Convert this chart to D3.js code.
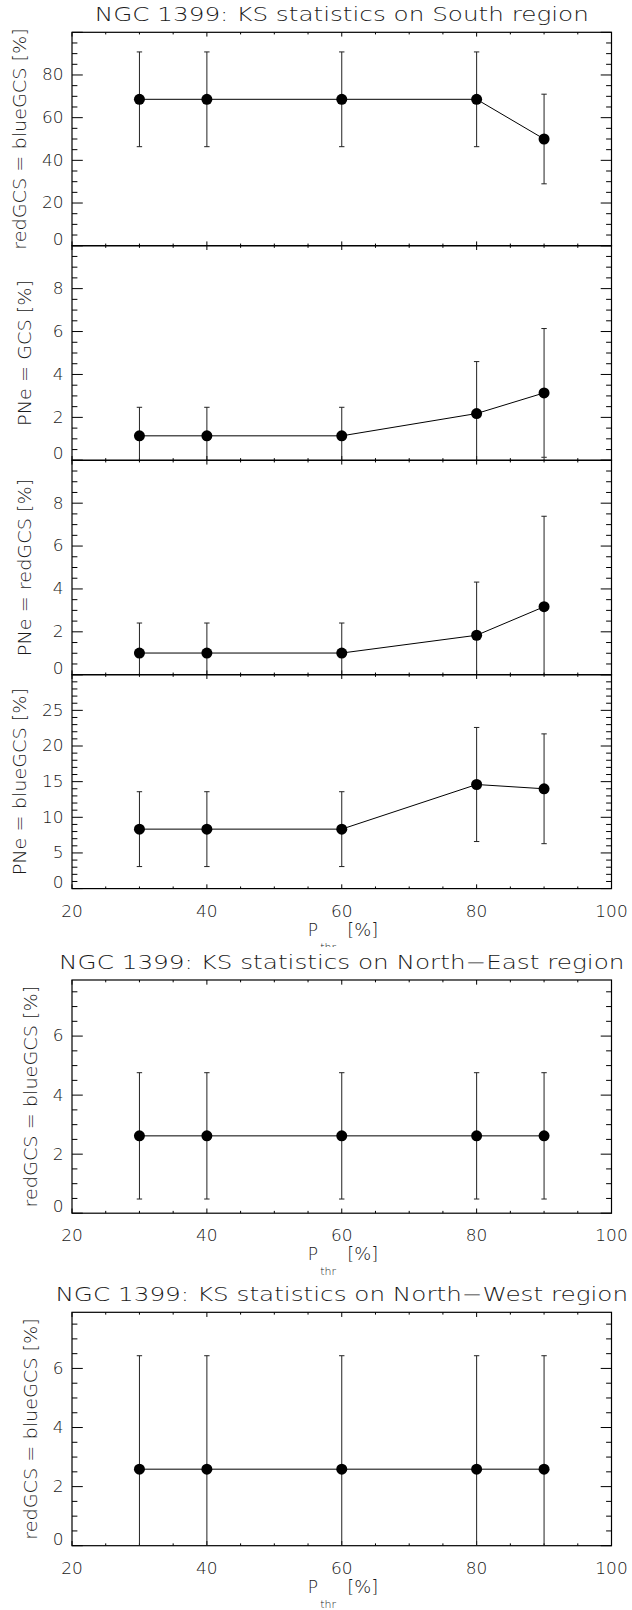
<!DOCTYPE html>
<html><head><meta charset="utf-8">
<script src="https://cdn.jsdelivr.net/npm/d3@7"></script>
<style>body{margin:0;background:#fff} svg{display:block} text{font-weight:200}</style>
</head><body>
<svg id="c" width="632" height="1610"></svg>
<script>
// ---------- data ----------
const pThr = [30, 40, 60, 80, 90];
const xTickValues = [20, 40, 60, 80, 100];

const southRedBlue    = [68.6, 68.6, 68.6, 68.6, 50.0];
const southRedBlueErr = [22.2, 22.2, 22.2, 22.2, 21.0];
const southPneGcs     = [1.14, 1.14, 1.14, 2.18, 3.14];
const southPneGcsErr  = [1.33, 1.33, 1.33, 2.42, 3.00];
const southPneRed     = [1.01, 1.01, 1.01, 1.84, 3.17];
const southPneRedErr  = [1.40, 1.40, 1.40, 2.48, 4.22];
const southPneBlue    = [8.34, 8.34, 8.34, 14.6, 14.0];
const southPneBlueErr = [5.25, 5.25, 5.25, 8.00, 7.70];
const neRedBlue       = [2.62, 2.62, 2.62, 2.62, 2.62];
const neRedBlueErr    = [2.14, 2.14, 2.14, 2.14, 2.14];
const nwRedBlue       = [2.59, 2.59, 2.59, 2.59, 2.59];
const nwRedBlueErr    = [3.84, 3.84, 3.84, 3.84, 3.84];

const figureTitles = [
  "NGC 1399: KS statistics on South region",
  "NGC 1399: KS statistics on North\u2212East region",
  "NGC 1399: KS statistics on North\u2212West region"
];
const yLabels = [
  "redGCS = blueGCS [%]", "PNe = GCS [%]", "PNe = redGCS [%]", "PNe = blueGCS [%]",
  "redGCS = blueGCS [%]", "redGCS = blueGCS [%]"
];
const yMaxes   = [100, 10, 10, 30, 7.9, 7.9];
const yMajors  = [20, 2, 2, 5, 2, 2];
const yMinors  = [5, 0.5, 0.5, 1, 0.5, 0.5];
const values   = [southRedBlue, southPneGcs, southPneRed, southPneBlue, neRedBlue, nwRedBlue];
const errors   = [southRedBlueErr, southPneGcsErr, southPneRedErr, southPneBlueErr, neRedBlueErr, nwRedBlueErr];

// ---------- layout ----------
const FONT = "'DejaVu Sans', sans-serif";
const TXT = "#1a1a1a";
const L = 72, R = 611.5;
const panels = [
  {top: 32.3,   bottom: 245.7,  fig: 0, title: true,  xlab: false, ylx: 26},
  {top: 245.7,  bottom: 460.3,  fig: 0, title: false, xlab: false, ylx: 31},
  {top: 460.3,  bottom: 674.7,  fig: 0, title: false, xlab: false, ylx: 31},
  {top: 674.7,  bottom: 888.6,  fig: 0, title: false, xlab: true,  ylx: 26},
  {top: 980.0,  bottom: 1213.2, fig: 1, title: true,  xlab: true,  ylx: 37},
  {top: 1312.3, bottom: 1545.7, fig: 2, title: true,  xlab: true,  ylx: 37}
];

const svg = d3.select("#c");
svg.append("rect").attr("width", 632).attr("height", 1610).attr("fill", "#fff");
const x = d3.scaleLinear().domain([20, 100]).range([L, R]);

function stretch(sel, k) {
  sel.each(function () {
    const len = this.getComputedTextLength();
    d3.select(this).attr("textLength", len * k).attr("lengthAdjust", "spacingAndGlyphs");
  });
}
const near = (a, b) => Math.abs(a - b) < 1e-9;

function drawPanel(p, i) {
  const y = d3.scaleLinear().domain([0, yMaxes[i]]).range([p.bottom, p.top]);
  const g = svg.append("g").attr("fill", TXT);
  const clipId = "clip" + i;
  svg.append("clipPath").attr("id", clipId).append("rect")
    .attr("x", L).attr("y", p.top).attr("width", R - L).attr("height", p.bottom - p.top);

  const yTL = 0.02 * (R - L), xTL = 0.02 * (p.bottom - p.top);
  const yMaj = d3.range(0, yMaxes[i] + 1e-9, yMajors[i]);
  const yMin = d3.range(0, yMaxes[i] + 1e-9, yMinors[i]).filter(v => !yMaj.some(m => near(m, v)));
  const xMaj = xTickValues;
  const xMin = d3.range(20, 100 + 1e-9, 5).filter(v => !xMaj.some(m => near(m, v)));

  const ax = g.append("g").attr("stroke", "#000").attr("stroke-width", 1);
  [[yMaj, yTL], [yMin, yTL / 2]].forEach(([vals, len]) => {
    ax.selectAll(null).data(vals).enter().append("line")
      .attr("x1", L).attr("x2", L + len).attr("y1", d => y(d)).attr("y2", d => y(d));
    ax.selectAll(null).data(vals).enter().append("line")
      .attr("x1", R).attr("x2", R - len).attr("y1", d => y(d)).attr("y2", d => y(d));
  });
  [[xMaj, xTL], [xMin, xTL / 2]].forEach(([vals, len]) => {
    ax.selectAll(null).data(vals).enter().append("line")
      .attr("x1", d => x(d)).attr("x2", d => x(d)).attr("y1", p.bottom).attr("y2", p.bottom - len);
    ax.selectAll(null).data(vals).enter().append("line")
      .attr("x1", d => x(d)).attr("x2", d => x(d)).attr("y1", p.top).attr("y2", p.top + len);
  });
  g.append("rect").attr("x", L).attr("y", p.top).attr("width", R - L).attr("height", p.bottom - p.top)
    .attr("fill", "none").attr("stroke", "#000").attr("stroke-width", 1.2);

  const labVals = yMaj.filter(v => y(v) - p.top > 4);
  const yl = g.selectAll(null).data(labVals).enter().append("text")
    .attr("x", L - 8.5)
    .attr("y", d => near(d, 0) ? p.bottom - 1 : y(d))
    .attr("dy", d => near(d, 0) ? "0" : "0.36em")
    .attr("text-anchor", "end").attr("font-family", FONT).attr("font-size", 15)
    .text(d => d3.format("d")(d));
  stretch(yl, 1.13);

  const ylab = g.append("text")
    .attr("transform", `translate(${p.ylx},${(p.top + p.bottom) / 2}) rotate(-90)`)
    .attr("text-anchor", "middle").attr("font-family", FONT).attr("font-size", 17)
    .text(yLabels[i]);
  stretch(ylab, 1.13);

  const vals = values[i], errs = errors[i];
  const pts = pThr.map((v, j) => ({x: v, y: vals[j], e: errs[j]}));
  const dg = g.append("g").attr("clip-path", `url(#${clipId})`);
  dg.selectAll(null).data(pts).enter().append("line")
    .attr("x1", d => x(d.x)).attr("x2", d => x(d.x))
    .attr("y1", d => y(d.y - d.e)).attr("y2", d => y(d.y + d.e))
    .attr("stroke", "#222").attr("stroke-width", 1);
  const cap = 2.7;
  ["lo", "hi"].forEach(k => {
    dg.selectAll(null).data(pts).enter().append("line")
      .attr("x1", d => x(d.x) - cap).attr("x2", d => x(d.x) + cap)
      .attr("y1", d => y(k === "lo" ? d.y - d.e : d.y + d.e))
      .attr("y2", d => y(k === "lo" ? d.y - d.e : d.y + d.e))
      .attr("stroke", "#222").attr("stroke-width", 1);
  });
  dg.append("path").datum(pts)
    .attr("d", d3.line().x(d => x(d.x)).y(d => y(d.y)))
    .attr("fill", "none").attr("stroke", "#000").attr("stroke-width", 1);
  dg.selectAll(null).data(pts).enter().append("circle")
    .attr("cx", d => x(d.x)).attr("cy", d => y(d.y)).attr("r", 5.5).attr("fill", "#000");

  if (p.title) {
    const t = g.append("text").attr("x", (L + R) / 2).attr("y", p.top - 11)
      .attr("text-anchor", "middle").attr("font-family", FONT).attr("font-size", 19.2)
      .text(figureTitles[p.fig]);
    stretch(t, 1.285);
  }
  if (p.xlab) {
    const xl = g.selectAll(null).data(xTickValues).enter().append("text")
      .attr("x", d => x(d)).attr("y", p.bottom + 28)
      .attr("text-anchor", "middle").attr("font-family", FONT).attr("font-size", 15)
      .text(d => d3.format("d")(d));
    stretch(xl, 1.13);
    const cx = (L + R) / 2, by = p.bottom + 47;
    g.append("text").attr("x", cx - 34).attr("y", by).attr("font-family", FONT).attr("font-size", 17).text("P");
    g.append("text").attr("x", cx - 21.5).attr("y", by + 15).attr("font-family", FONT).attr("font-size", 11).text("thr");
    const br = g.append("text").attr("x", cx + 5.5).attr("y", by).attr("font-family", FONT).attr("font-size", 17).text("[%]");
    stretch(br, 1.05);
  }
}

panels.forEach((p, i) => {
  if (i === 4) {
    // the North-East figure is stacked over the bottom of the South figure
    svg.append("rect").attr("x", 0).attr("y", 947).attr("width", 632).attr("height", 30).attr("fill", "#fff");
  }
  drawPanel(p, i);
});
</script>
</body></html>
